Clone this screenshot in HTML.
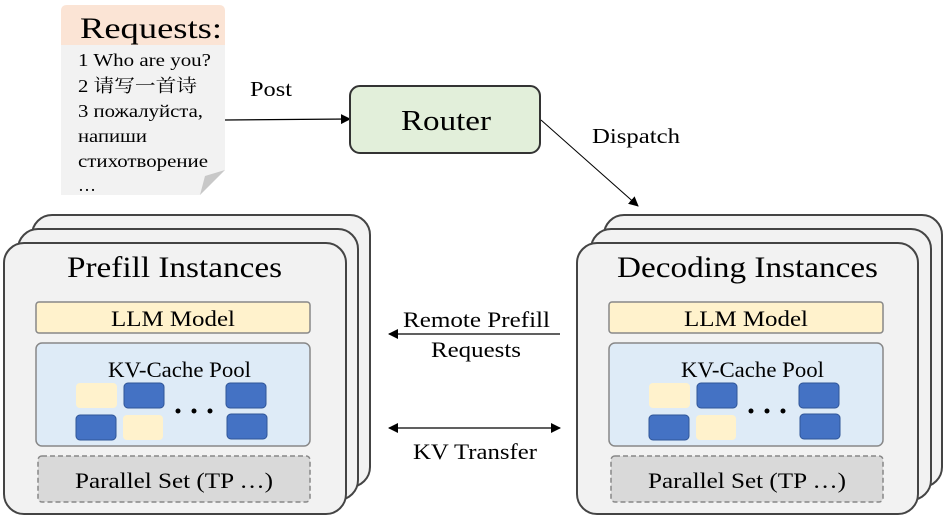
<!DOCTYPE html>
<html><head><meta charset="utf-8"><style>
html,body{margin:0;padding:0;background:#fff;}
svg{display:block;}
svg text{font-family:"Liberation Serif","DejaVu Serif Condensed","DejaVu Serif",serif;fill:#000;}
svg text.cjk{font-family:"Liberation Serif","Noto Serif CJK SC","Noto Sans CJK SC",serif;}
</style></head><body>
<svg width="948" height="518" viewBox="0 0 948 518" xmlns="http://www.w3.org/2000/svg">
<defs>
<marker id="ah" markerWidth="10" markerHeight="10" refX="9" refY="5" orient="auto" markerUnits="userSpaceOnUse">
<path d="M0,0 L10,5 L0,10 z" fill="#000"/></marker>
<marker id="ahs" markerWidth="10" markerHeight="10" refX="1" refY="5" orient="auto" markerUnits="userSpaceOnUse">
<path d="M10,0 L0,5 L10,10 z" fill="#000"/></marker>
</defs>

<path d="M61,45 L61,11 Q61,5 67,5 L219,5 Q225,5 225,11 L225,45 Z" fill="#fbe4d5"/>
<path d="M61,45 L225,45 L225,170 L200,195 L61,195 Z" fill="#f2f2f2"/>
<path d="M200,195 L205,176 L225,170 Z" fill="#c8c8c8"/>
<text x="80" y="38" font-size="30" textLength="142" lengthAdjust="spacingAndGlyphs">Requests:</text>
<text x="78" y="66" font-size="18" textLength="133" lengthAdjust="spacingAndGlyphs">1 Who are you?</text>
<text x="78" y="92" font-size="18" class="cjk" textLength="119" lengthAdjust="spacingAndGlyphs">2 请写一首诗</text>
<text x="78" y="117" font-size="18" textLength="125" lengthAdjust="spacingAndGlyphs">3 пожалуйста,</text>
<text x="78" y="142" font-size="18" textLength="69" lengthAdjust="spacingAndGlyphs">напиши</text>
<text x="78" y="167" font-size="18" textLength="130" lengthAdjust="spacingAndGlyphs">стихотворение</text>
<text x="78" y="191" font-size="18">…</text>

<line x1="225" y1="120" x2="350" y2="119" stroke="#000" stroke-width="1.2" marker-end="url(#ah)"/>
<text x="250" y="96" font-size="21" textLength="42" lengthAdjust="spacingAndGlyphs">Post</text>

<rect x="350" y="86" width="190" height="67" rx="10" fill="#e2efda" stroke="#333" stroke-width="2"/>
<text x="401" y="130" font-size="29" textLength="90" lengthAdjust="spacingAndGlyphs">Router</text>

<line x1="541" y1="120" x2="638" y2="206" stroke="#000" stroke-width="1" marker-end="url(#ah)"/>
<text x="592" y="143" font-size="21" textLength="88" lengthAdjust="spacingAndGlyphs">Dispatch</text>

<g fill="#f2f2f2" stroke="#444" stroke-width="2">
<rect x="32" y="215" width="338" height="272" rx="20"/>
<rect x="18" y="229" width="340" height="271" rx="20"/>
<rect x="4" y="243" width="342" height="271" rx="20"/>
</g>
<text x="67" y="277" font-size="30" textLength="215" lengthAdjust="spacingAndGlyphs">Prefill Instances</text>
<rect x="36" y="302" width="274" height="31" rx="3" fill="#fff2cc" stroke="#888" stroke-width="1.5"/>
<text x="111" y="326" font-size="22" textLength="124" lengthAdjust="spacingAndGlyphs">LLM Model</text>
<rect x="36" y="343" width="274" height="103" rx="6" fill="#deebf7" stroke="#888" stroke-width="1.5"/>
<text x="108" y="377" font-size="22" textLength="143" lengthAdjust="spacingAndGlyphs">KV-Cache Pool</text>
<g>
<rect x="76" y="383" width="41" height="25" rx="4" fill="#fff2cc"/>
<rect x="124" y="383" width="40" height="25" rx="4" fill="#4472c4" stroke="#2f5597"/>
<rect x="226" y="383" width="40" height="25" rx="4" fill="#4472c4" stroke="#2f5597"/>
<rect x="76" y="415" width="40" height="25" rx="4" fill="#4472c4" stroke="#2f5597"/>
<rect x="123" y="415" width="40" height="25" rx="4" fill="#fff2cc"/>
<rect x="227" y="414" width="40" height="25" rx="4" fill="#4472c4" stroke="#2f5597"/>
<circle cx="178" cy="411" r="2.5" fill="#000"/><circle cx="194" cy="411" r="2.5" fill="#000"/><circle cx="210" cy="411" r="2.5" fill="#000"/>
</g>
<rect x="38" y="456" width="272" height="46" rx="4" fill="#d9d9d9" stroke="#888" stroke-width="1.5" stroke-dasharray="5,3"/>
<text x="75" y="488" font-size="22" textLength="198" lengthAdjust="spacingAndGlyphs">Parallel Set (TP …)</text>

<g fill="#f2f2f2" stroke="#444" stroke-width="2">
<rect x="604" y="215" width="338" height="272" rx="20"/>
<rect x="591" y="229" width="340" height="271" rx="20"/>
<rect x="577" y="243" width="341" height="271" rx="20"/>
</g>
<text x="617" y="277" font-size="30" textLength="261" lengthAdjust="spacingAndGlyphs">Decoding Instances</text>
<rect x="609" y="302" width="274" height="31" rx="3" fill="#fff2cc" stroke="#888" stroke-width="1.5"/>
<text x="684" y="326" font-size="22" textLength="124" lengthAdjust="spacingAndGlyphs">LLM Model</text>
<rect x="609" y="343" width="274" height="103" rx="6" fill="#deebf7" stroke="#888" stroke-width="1.5"/>
<text x="681" y="377" font-size="22" textLength="143" lengthAdjust="spacingAndGlyphs">KV-Cache Pool</text>
<g>
<rect x="649" y="383" width="41" height="25" rx="4" fill="#fff2cc"/>
<rect x="697" y="383" width="40" height="25" rx="4" fill="#4472c4" stroke="#2f5597"/>
<rect x="799" y="383" width="40" height="25" rx="4" fill="#4472c4" stroke="#2f5597"/>
<rect x="649" y="415" width="40" height="25" rx="4" fill="#4472c4" stroke="#2f5597"/>
<rect x="696" y="415" width="40" height="25" rx="4" fill="#fff2cc"/>
<rect x="800" y="414" width="40" height="25" rx="4" fill="#4472c4" stroke="#2f5597"/>
<circle cx="751" cy="411" r="2.5" fill="#000"/><circle cx="767" cy="411" r="2.5" fill="#000"/><circle cx="783" cy="411" r="2.5" fill="#000"/>
</g>
<rect x="611" y="456" width="272" height="46" rx="4" fill="#d9d9d9" stroke="#888" stroke-width="1.5" stroke-dasharray="5,3"/>
<text x="648" y="488" font-size="22" textLength="198" lengthAdjust="spacingAndGlyphs">Parallel Set (TP …)</text>

<line x1="560" y1="334" x2="389" y2="334" stroke="#000" stroke-width="1.2" marker-end="url(#ah)"/>
<text x="403" y="327" font-size="22" textLength="147" lengthAdjust="spacingAndGlyphs">Remote Prefill</text>
<text x="431" y="357" font-size="22" textLength="90" lengthAdjust="spacingAndGlyphs">Requests</text>
<line x1="389" y1="428" x2="560" y2="428" stroke="#000" stroke-width="1.2" marker-start="url(#ahs)" marker-end="url(#ah)"/>
<text x="413" y="459" font-size="22" textLength="124" lengthAdjust="spacingAndGlyphs">KV Transfer</text>
</svg>
</body></html>
